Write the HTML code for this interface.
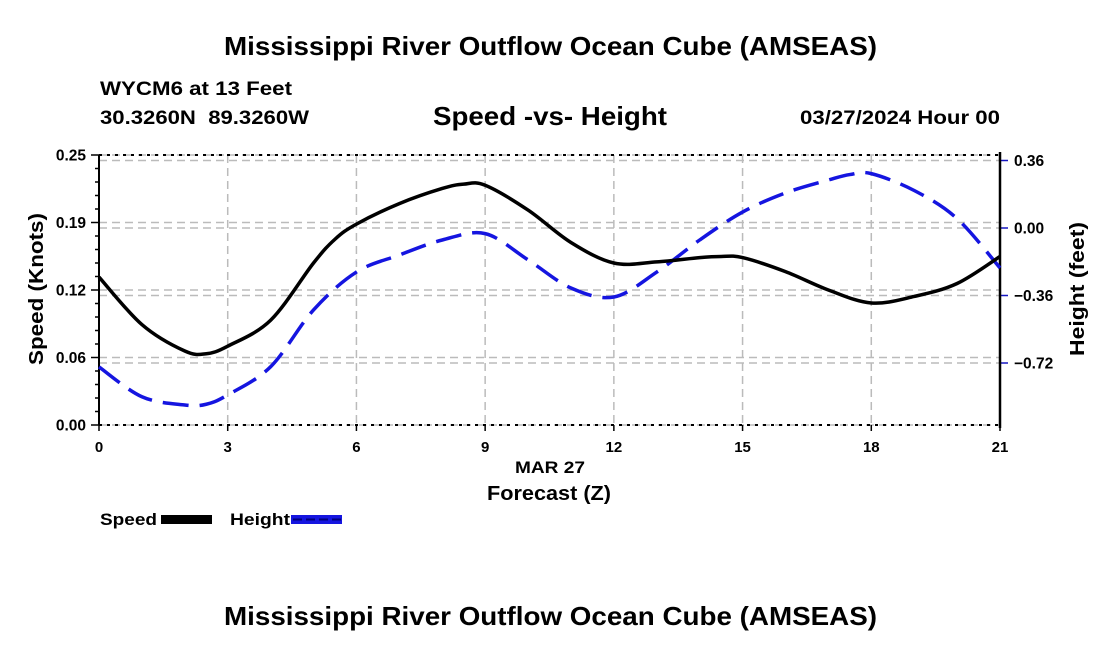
<!DOCTYPE html>
<html><head><meta charset="utf-8"><style>
body{margin:0;background:#fff;}
svg{display:block;font-family:"Liberation Sans",Arial,sans-serif;font-weight:bold;}
</style></head><body>
<svg id="chart" width="1100" height="650" viewBox="0 0 1100 650" xmlns="http://www.w3.org/2000/svg">
<text x="224" y="55" font-size="26" textLength="653" lengthAdjust="spacingAndGlyphs">Mississippi River Outflow Ocean Cube (AMSEAS)</text>
<text x="100" y="95" font-size="19" textLength="192" lengthAdjust="spacingAndGlyphs">WYCM6 at 13 Feet</text>
<text x="100" y="124" font-size="19" textLength="209" lengthAdjust="spacingAndGlyphs" xml:space="preserve">30.3260N  89.3260W</text>
<text x="433" y="125" font-size="26" textLength="234" lengthAdjust="spacingAndGlyphs">Speed -vs- Height</text>
<text x="800" y="124" font-size="19" textLength="200" lengthAdjust="spacingAndGlyphs">03/27/2024 Hour 00</text>
<g id="grid"></g>
<g id="axes"></g>
<g id="series"></g>
<text x="515" y="473" font-size="17" textLength="70" lengthAdjust="spacingAndGlyphs">MAR 27</text>
<text x="487" y="500" font-size="20" textLength="124" lengthAdjust="spacingAndGlyphs">Forecast (Z)</text>
<text transform="translate(43,289) rotate(-90)" font-size="20" text-anchor="middle" textLength="152" lengthAdjust="spacingAndGlyphs">Speed (Knots)</text>
<text transform="translate(1084,289) rotate(-90)" font-size="20" text-anchor="middle" textLength="134" lengthAdjust="spacingAndGlyphs">Height (feet)</text>
<g>
<text x="100" y="525" font-size="17" textLength="57" lengthAdjust="spacingAndGlyphs">Speed</text>
<rect x="161" y="515" width="51" height="9" fill="#000"/>
<text x="230" y="525" font-size="17" textLength="60" lengthAdjust="spacingAndGlyphs">Height</text>
<rect x="291" y="515" width="51" height="9" fill="#1515e0"/>
<line x1="293" y1="519.5" x2="342" y2="519.5" stroke="#000080" stroke-width="2" stroke-dasharray="9,4"/>
</g>
<text x="224" y="625" font-size="26" textLength="653" lengthAdjust="spacingAndGlyphs">Mississippi River Outflow Ocean Cube (AMSEAS)</text>
</svg>
<script>
const hours=[0,1,2,2.5,3,4,5,5.5,6,7,8,8.5,9,10,11,12,13,14,14.5,15,16,17,18,19,20,21];
const speedVals=[0.137,0.093,0.0685,0.066,0.073,0.097,0.15,0.172,0.186,0.205,0.219,0.223,0.222,0.199,0.169,0.15,0.151,0.155,0.156,0.155,0.142,0.125,0.113,0.119,0.131,0.156];
const heightHours=[0,1,2,2.5,3,4,5,6,7,8,9,10,11,12,13,14,15,16,17,17.5,18,19,20,21];
const heightVals=[-0.741,-0.90,-0.944,-0.94,-0.89,-0.74,-0.437,-0.235,-0.144,-0.064,-0.03,-0.17,-0.32,-0.368,-0.235,-0.064,0.085,0.187,0.256,0.285,0.29,0.20,0.05,-0.213];
const xTicks=[0,3,6,9,12,15,18,21];
const leftTicks=[0,0.0625,0.125,0.1875,0.25];
const leftTickLabels=["0.00","0.06","0.12","0.19","0.25"];
const rightTicks=[0.36,0,-0.36,-0.72];
const rightTickLabels=["0.36","0.00","\u22120.36","\u22120.72"];

const X0=99,X1=1000,Y0=425,Y1=155;
const xs=h=>X0+(h/21)*(X1-X0);
const yL=v=>Y0-(v/0.25)*(Y0-Y1);
const yR=v=>228-v*187.5;
const NS="http://www.w3.org/2000/svg";
function mk(parent,tag,attrs){const e=document.createElementNS(NS,tag);for(const k in attrs)e.setAttribute(k,attrs[k]);parent.appendChild(e);return e;}
const grid=document.getElementById('grid'),axes=document.getElementById('axes'),series=document.getElementById('series');

xTicks.forEach(t=>{
  const l=mk(grid,'line',{x1:xs(t),x2:xs(t),y1:Y1,y2:Y0,stroke:'#bbb','stroke-width':1.5,'stroke-dasharray':'8,5'});
  
  
  const tx=mk(axes,'text',{x:xs(t),y:452,'font-size':15,'text-anchor':'middle'});
  tx.textContent=t;
  
  
});
leftTicks.forEach((t,i)=>{
  const l=mk(grid,'line',{x1:X0,x2:X1,y1:yL(t),y2:yL(t),stroke:'#bbb','stroke-width':1.5,'stroke-dasharray':'8,5'});
  
  
  const tx=mk(axes,'text',{x:86,y:yL(t)+5.5,'font-size':15.5,'text-anchor':'end'});
  tx.textContent=leftTickLabels[i];
  
  
});
rightTicks.forEach((t,i)=>{
  const l=mk(grid,'line',{x1:X0,x2:X1,y1:yR(t),y2:yR(t),stroke:'#bbb','stroke-width':1.5,'stroke-dasharray':'8,5'});
  
  
  mk(axes,'line',{x1:X1,x2:X1+8,y1:yR(t),y2:yR(t),stroke:'#1515c0','stroke-width':1.5});
  const tx=mk(axes,'text',{x:1014,y:yR(t)+5.5,'font-size':15.5});
  tx.textContent=rightTickLabels[i];
  
  
});
[Y1,Y0].forEach(y=>{
  mk(axes,'line',{x1:X0,x2:X1,y1:y,y2:y,stroke:'#000','stroke-width':2,'stroke-dasharray':'3,5'});
});
mk(axes,'line',{x1:X0,x2:X0,y1:Y1,y2:Y0,stroke:'#000','stroke-width':2});
mk(axes,'line',{x1:X1,x2:X1,y1:Y1-3,y2:Y0+3,stroke:'#000','stroke-width':2.5});
for(let k=0;k<=20;k++){const y=yL(k*0.0125);mk(axes,'line',{x1:X0-(k%5===0?8:4),x2:X0,y1:y,y2:y,stroke:'#000','stroke-width':1.5});}
xTicks.forEach(t=>mk(axes,'line',{x1:xs(t),x2:xs(t),y1:Y0,y2:Y0+6,stroke:'#000','stroke-width':1.5}));

function smooth(pts){let d=`M${pts[0][0]},${pts[0][1]}`;for(let i=0;i<pts.length-1;i++){const p0=pts[i-1]||pts[i],p1=pts[i],p2=pts[i+1],p3=pts[i+2]||p2;
 const c1=[p1[0]+(p2[0]-p0[0])/6,p1[1]+(p2[1]-p0[1])/6],c2=[p2[0]-(p3[0]-p1[0])/6,p2[1]-(p3[1]-p1[1])/6];
 d+=` C${c1[0]},${c1[1]} ${c2[0]},${c2[1]} ${p2[0]},${p2[1]}`;}return d;}
const hp=mk(series,'path',{d:smooth(heightHours.map((h,i)=>[xs(h),yR(heightVals[i])])),fill:'none',stroke:'#1515e0','stroke-width':3.5,'stroke-dasharray':'26,11'});


const sp=mk(series,'path',{d:smooth(hours.map((h,i)=>[xs(h),yL(speedVals[i])])),fill:'none',stroke:'#000','stroke-width':3.5});


</script>
</body></html>
